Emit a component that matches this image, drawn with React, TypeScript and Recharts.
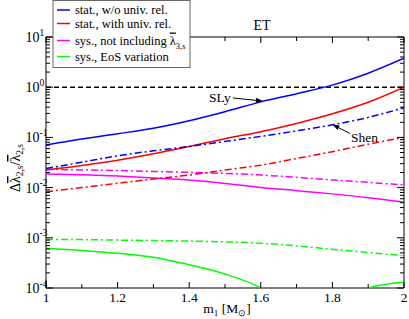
import { LineChart, Line, XAxis, YAxis, ReferenceLine, ReferenceArea } from "recharts";

// primary mass m1 [Msun]
const masses = [1, 1.1, 1.2, 1.3, 1.4, 1.5, 1.6, 1.7, 1.8, 1.9, 2];

// solid = SLy, dash-dot = Shen
const statNoUnivSly = [0.0706, 0.093, 0.118, 0.152, 0.215, 0.325, 0.51, 0.74, 1.1, 1.9, 3.77];
const statNoUnivShen = [0.024, 0.032, 0.043, 0.054, 0.066, 0.083, 0.105, 0.135, 0.178, 0.25, 0.39];
const statUnivSly = [0.0224, 0.0275, 0.035, 0.047, 0.066, 0.094, 0.13, 0.19, 0.295, 0.5, 1.0];
const statUnivShen = [0.0083, 0.01, 0.0122, 0.0148, 0.0178, 0.0224, 0.028, 0.038, 0.052, 0.073, 0.1];
const sysNoL3Sly = [0.0187, 0.018, 0.017, 0.0156, 0.0142, 0.0121, 0.0101, 0.0087, 0.0075, 0.0063, 0.0051];
const sysNoL3Shen = [0.0231, 0.0225, 0.0219, 0.021, 0.0201, 0.0192, 0.0178, 0.016, 0.0142, 0.0127, 0.0113];
const sysEosSly = [0.00062, 0.00056, 0.00049, 0.00041, 0.00029, 0.00019, 0.0001, 0.00003, 0.00003, 0.0001, 0.00013];
const sysEosShen = [0.00093, 0.00092, 0.0009, 0.00088, 0.00086, 0.00083, 0.00078, 0.00069, 0.00059, 0.00051, 0.00044];

const xTicks = [1, 1.1, 1.2, 1.3, 1.4, 1.5, 1.6, 1.7, 1.8, 1.9, 2];
const yDecades = [1e-4, 1e-3, 1e-2, 1e-1, 1, 10];
const yTicks = yDecades.flatMap((d, i) =>
  i === yDecades.length - 1 ? [d] : [1, 2, 3, 4, 5, 6, 7, 8, 9].map((k) => k * d)
);

const data = masses.map((m, i) => ({
  m,
  a: statNoUnivSly[i],
  b: statNoUnivShen[i],
  c: statUnivSly[i],
  d: statUnivShen[i],
  e: sysNoL3Sly[i],
  f: sysNoL3Shen[i],
  g: sysEosSly[i],
  h: sysEosShen[i],
}));

const W = 409, H = 319;
const PL = 46, PR = 404, PT = 37, PB = 288;
const FONT = '"Liberation Serif", "Times New Roman", serif';
const DASHDOT = "7 3 2 3";

function YTick({ y, payload }: any) {
  const v = payload.value;
  const lg = Math.log10(v);
  const major = Math.abs(lg - Math.round(lg)) < 1e-6;
  const len = major ? 7 : 4;
  return (
    <g>
      <line x1={PL} x2={PL + len} y1={y} y2={y} stroke="#000" />
      <line x1={PR - len} x2={PR} y1={y} y2={y} stroke="#000" />
      {major && (
        <>
          <text x={PL - 6.5} y={y + 5} textAnchor="end" fontSize={14} fontFamily={FONT} fill="#000">10</text>
          <text x={PL - 6.5} y={y - 1.5} textAnchor="start" fontSize={9.5} fontFamily={FONT} fill="#000">{Math.round(lg)}</text>
        </>
      )}
    </g>
  );
}

function XTick({ x, payload }: any) {
  const v = payload.value;
  const major = Math.round(v * 10) % 2 === 0;
  const len = major ? 6 : 4;
  return (
    <g>
      <line x1={x} x2={x} y1={PB} y2={PB - len} stroke="#000" />
      <line x1={x} x2={x} y1={PT} y2={PT + len} stroke="#000" />
      {major && (
        <text x={x} y={PB + 14} textAnchor="middle" fontSize={13.5} fontFamily={FONT} fill="#000">
          {Number.isInteger(v) ? String(v) : v.toFixed(1)}
        </text>
      )}
    </g>
  );
}

function arrowShape(label: string, side: "left" | "right") {
  return (p: any) => {
    const { x1, y1, x2, y2 } = p;
    const ang = Math.atan2(y2 - y1, x2 - x1);
    const L = 7, hw = 2.5;
    const bx = x2 - L * Math.cos(ang), by = y2 - L * Math.sin(ang);
    const pts = [
      [x2, y2],
      [bx - hw * Math.sin(ang), by + hw * Math.cos(ang)],
      [bx + hw * Math.sin(ang), by - hw * Math.cos(ang)],
    ].map((q) => q.join(",")).join(" ");
    return (
      <g>
        <line x1={x1} y1={y1} x2={bx} y2={by} stroke="#000" strokeWidth={1} />
        <polygon points={pts} fill="#000" />
        {side === "left" ? (
          <text x={x1 - 2} y={y1 + 4} textAnchor="end" fontSize={13.5} fontFamily={FONT} fill="#000">{label}</text>
        ) : (
          <text x={x1 + 1} y={y1 + 9} textAnchor="start" fontSize={13.5} fontFamily={FONT} fill="#000">{label}</text>
        )}
      </g>
    );
  };
}

const legendRows = [
  { color: "#0000ff", y: 10, text: "stat., w/o univ. rel." },
  { color: "#ff0000", y: 23.5, text: "stat., with univ. rel." },
  { color: "#ff00ff", y: 40.5, text: "sys., not including " },
  { color: "#00ff00", y: 56.5, text: "sys., EoS variation" },
];

export default function App() {
  return (
    <div style={{ position: "absolute", left: 0, top: 0, width: W, height: H, background: "#fff" }}>
      <LineChart width={W} height={H} data={data} margin={{ top: PT, right: W - PR, bottom: 0, left: 0 }}>
        <XAxis dataKey="m" type="number" domain={[1, 2]} ticks={xTicks} interval={0} height={H - PB}
          tick={(p: any) => <XTick {...p} />} tickLine={false} axisLine={false} allowDataOverflow />
        <YAxis type="number" scale="log" domain={[1e-4, 10]} ticks={yTicks} interval={0} width={PL}
          tick={(p: any) => <YTick {...p} />} tickLine={false} axisLine={false} allowDataOverflow />
        <ReferenceArea x1={1} x2={2} y1={1e-4} y2={10} fill="none" fillOpacity={0} stroke="#000" strokeWidth={1} />
        <ReferenceLine y={1} stroke="#000" strokeWidth={1.5} strokeDasharray="5 3" />
        <Line dataKey="g" type="monotone" stroke="#00ff00" strokeWidth={1.5} dot={false} isAnimationActive={false} />
        <Line dataKey="h" type="monotone" stroke="#00ff00" strokeWidth={1.5} strokeDasharray={DASHDOT} dot={false} isAnimationActive={false} />
        <Line dataKey="e" type="monotone" stroke="#ff00ff" strokeWidth={1.5} dot={false} isAnimationActive={false} />
        <Line dataKey="f" type="monotone" stroke="#ff00ff" strokeWidth={1.5} strokeDasharray={DASHDOT} dot={false} isAnimationActive={false} />
        <Line dataKey="d" type="monotone" stroke="#ff0000" strokeWidth={1.5} strokeDasharray={DASHDOT} dot={false} isAnimationActive={false} />
        <Line dataKey="c" type="monotone" stroke="#ff0000" strokeWidth={1.5} dot={false} isAnimationActive={false} />
        <Line dataKey="b" type="monotone" stroke="#0000ff" strokeWidth={1.5} strokeDasharray={DASHDOT} dot={false} isAnimationActive={false} />
        <Line dataKey="a" type="monotone" stroke="#0000ff" strokeWidth={1.5} dot={false} isAnimationActive={false} />
        <ReferenceLine segment={[{ x: 1.522, y: 0.61 }, { x: 1.606, y: 0.53 }]} shape={arrowShape("SLy", "left")} />
        <ReferenceLine segment={[{ x: 1.849, y: 0.12 }, { x: 1.8, y: 0.18 }]} shape={arrowShape("Shen", "right")} />
      </LineChart>
      <svg width={W} height={H} style={{ position: "absolute", left: 0, top: 0, pointerEvents: "none" }} fontFamily={FONT}>
        <text x={262} y={30} textAnchor="middle" fontSize={14} fill="#000">ET</text>
        <text x={227} y={313} textAnchor="middle" fontSize={13.5} fill="#000">
          m<tspan fontSize={9} dy={3}>1</tspan>
          <tspan dy={-3}> [M</tspan>
          <tspan fontSize={9} dy={3}>⊙</tspan>
          <tspan dy={-3}>]</tspan>
        </text>
        <text transform="translate(20,168) rotate(-90)" textAnchor="middle" fontSize={14} fill="#000">
          Δ<tspan style={{ textDecoration: "overline" }}>λ</tspan>
          <tspan fontSize={9.5} dy={3}>2,s</tspan>
          <tspan dy={-3}>/</tspan>
          <tspan style={{ textDecoration: "overline" }}>λ</tspan>
          <tspan fontSize={9.5} dy={3}>2,s</tspan>
        </text>
        <rect x={53} y={0.5} width={137} height={67} fill="#fff" stroke="#666" />
        {legendRows.map((r, i) => (
          <g key={i}>
            <line x1={57} x2={70} y1={r.y} y2={r.y} stroke={r.color} strokeWidth={1.5} />
            <text x={75} y={r.y + 4} fontSize={12.5} fill="#000">
              {r.text}
              {i === 2 && (
                <>
                  <tspan style={{ textDecoration: "overline" }}>λ</tspan>
                  <tspan fontSize={8.5} dy={4}>3,s</tspan>
                </>
              )}
            </text>
          </g>
        ))}
      </svg>
    </div>
  );
}
